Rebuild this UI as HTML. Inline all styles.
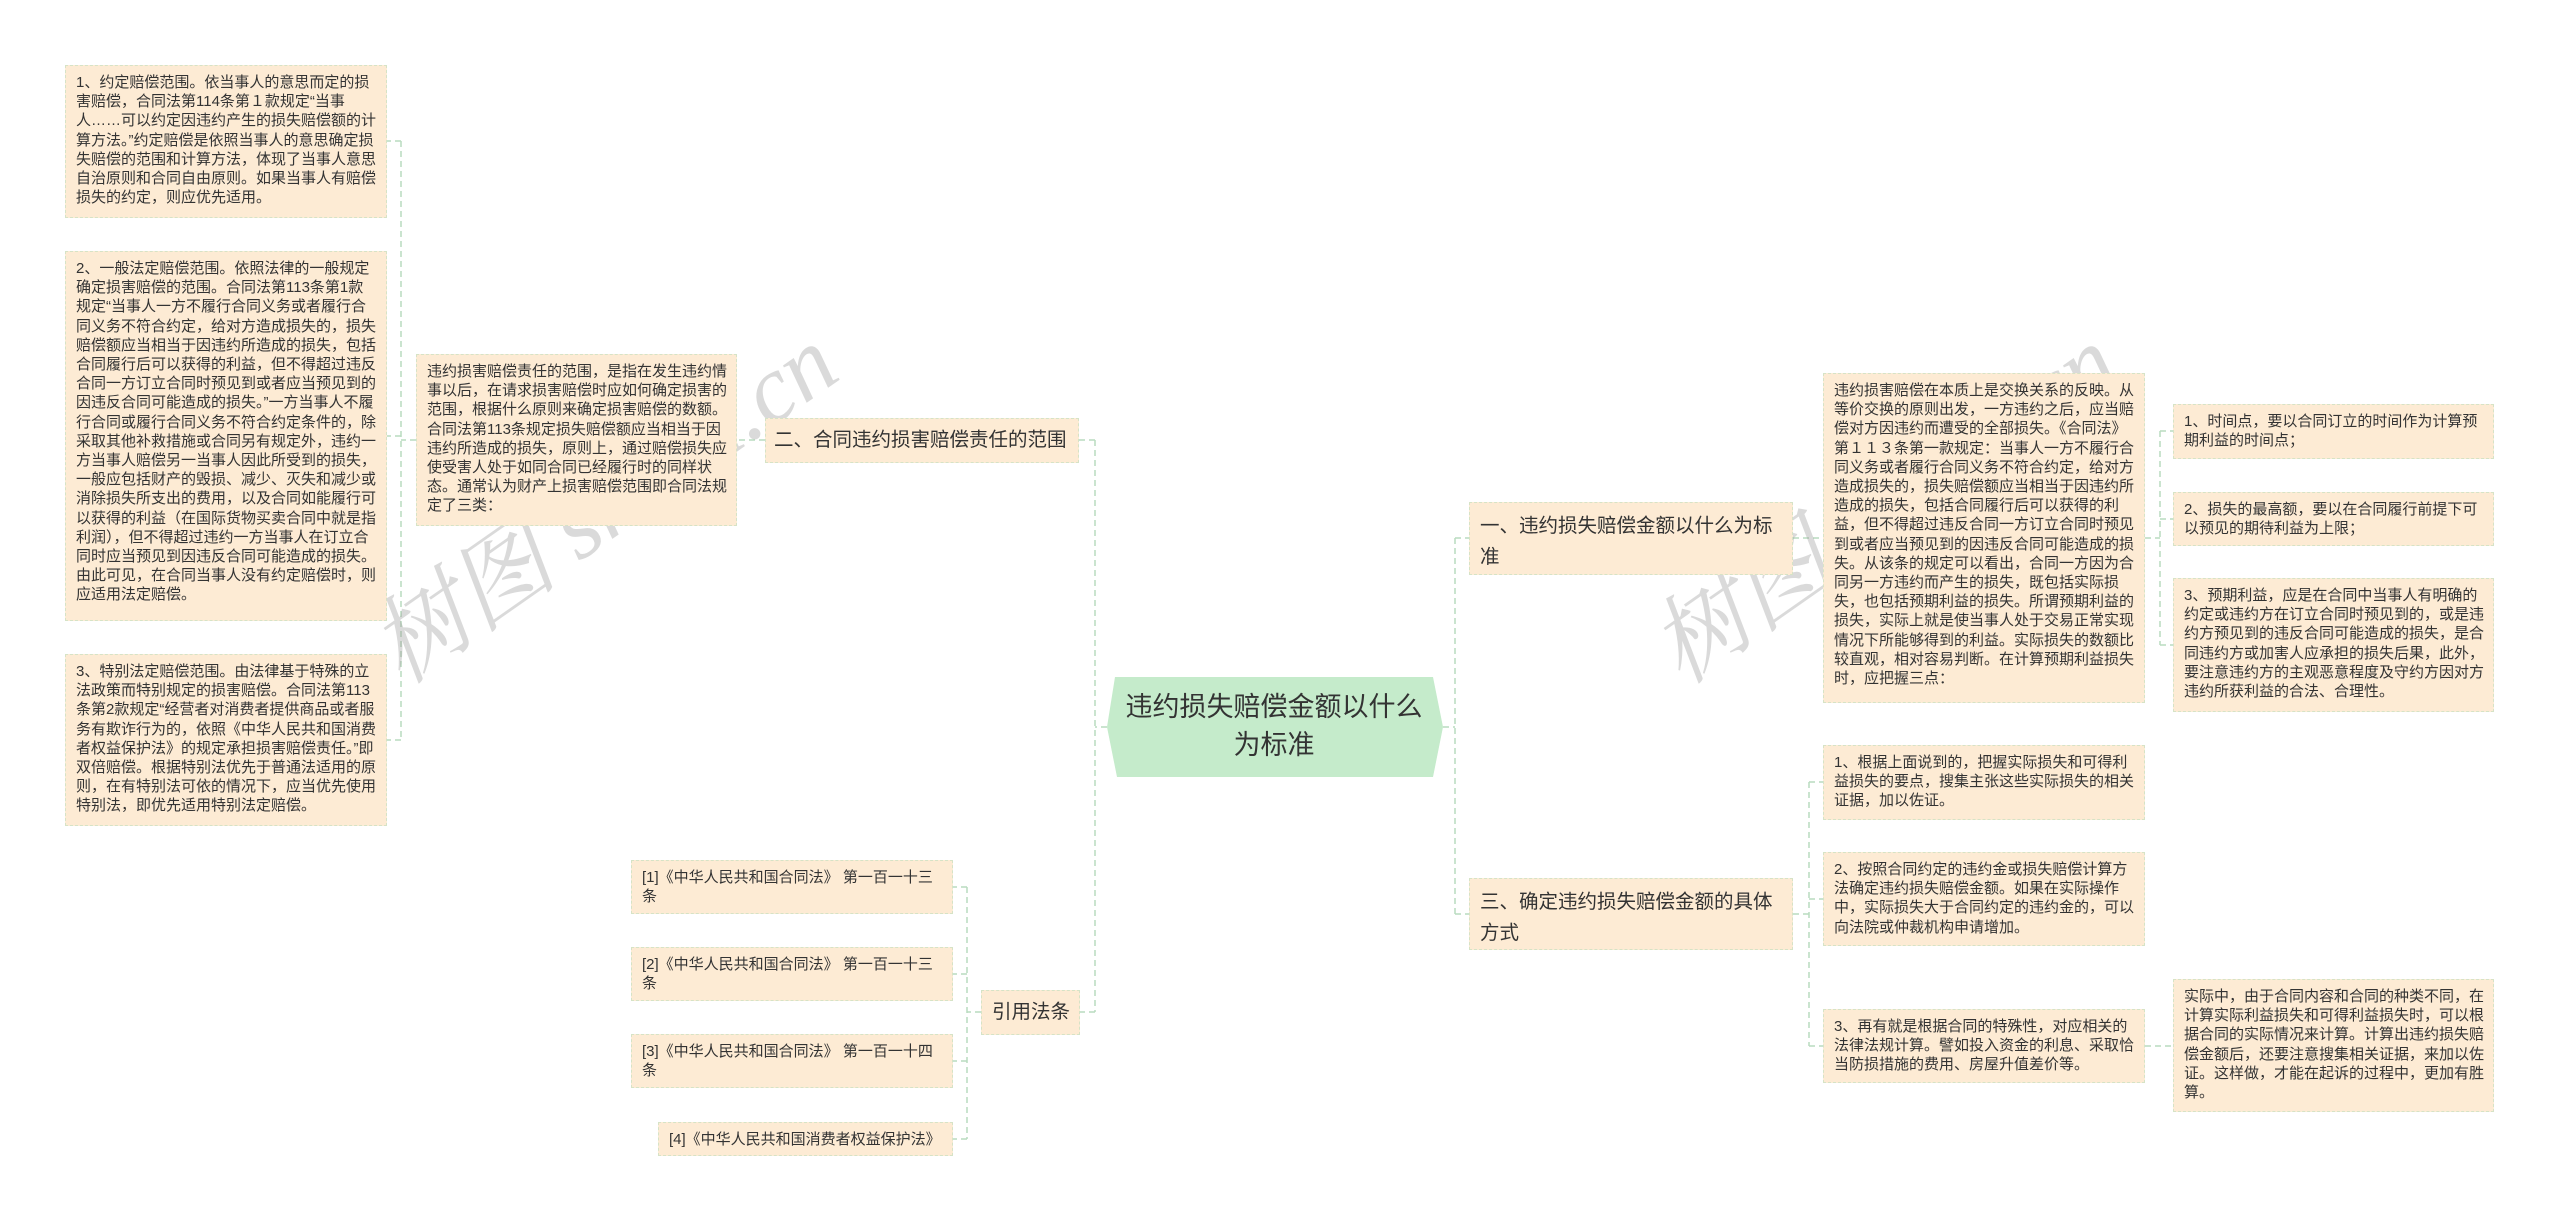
<!DOCTYPE html>
<html><head><meta charset="utf-8"><style>
body{margin:0;width:2560px;height:1222px;background:#fff;position:relative;overflow:hidden;font-family:"Liberation Sans","Noto Sans CJK SC",sans-serif;color:#333}
.b{position:absolute;box-sizing:border-box;background:#fdebd4;border:1.5px dashed #d6e3c6;padding:7px 8px 7px 10px;font-size:15px;line-height:19.2px;word-break:break-all}
.n{position:absolute;box-sizing:border-box;background:#fdebd4;border:1.5px dashed #d6e3c6;padding:8px 10px;font-size:19.5px;line-height:31px;color:#333}
.nw{white-space:nowrap;padding:6px 8px}
.wm{position:absolute;font-size:96px;color:rgba(150,150,150,.35);transform:rotate(-35deg);white-space:nowrap;font-family:"Liberation Serif","Noto Serif CJK SC",serif;font-style:italic}
svg{position:absolute;left:0;top:0}
</style></head><body>
<svg width="2560" height="1222"><g stroke="#b9dcbf" stroke-width="1.5" stroke-dasharray="6,4" fill="none">
<path d="M1107 727H1095M1095 440V1012M1095 440H1079M1095 1012H1080"/>
<path d="M765 440H737M416 440H401M401 141V740M401 141H387M401 436H387M401 740H387"/>
<path d="M981 1012H967M967 887V1139M967 887H953M967 974H953M967 1061H953M967 1139H953"/>
<path d="M1443 727H1455M1455 538V914M1455 538H1469M1455 914H1469"/>
<path d="M1793 538H1823M2145 538H2160M2160 431V645M2160 431H2173M2160 519H2173M2160 645H2173"/>
<path d="M1793 914H1809M1809 782V1046M1809 782H1823M1809 899H1823M1809 1046H1823M2145 1046H2173"/>
</g></svg>
<div class="wm" style="left:330px;top:430px">树图 shutu.cn</div>
<div class="wm" style="left:1610px;top:430px">树图 shutu.cn</div>

<div class="b" style="left:65px;top:65px;width:322px;height:153px">1、约定赔偿范围。依当事人的意思而定的损害赔偿，合同法第114条第１款规定“当事人……可以约定因违约产生的损失赔偿额的计算方法。”约定赔偿是依照当事人的意思确定损失赔偿的范围和计算方法，体现了当事人意思自治原则和合同自由原则。如果当事人有赔偿损失的约定，则应优先适用。</div>
<div class="b" style="left:65px;top:251px;width:322px;height:370px">2、一般法定赔偿范围。依照法律的一般规定确定损害赔偿的范围。合同法第113条第1款规定“当事人一方不履行合同义务或者履行合同义务不符合约定，给对方造成损失的，损失赔偿额应当相当于因违约所造成的损失，包括合同履行后可以获得的利益，但不得超过违反合同一方订立合同时预见到或者应当预见到的因违反合同可能造成的损失。”一方当事人不履行合同或履行合同义务不符合约定条件的，除采取其他补救措施或合同另有规定外，违约一方当事人赔偿另一当事人因此所受到的损失，一般应包括财产的毁损、减少、灭失和减少或消除损失所支出的费用，以及合同如能履行可以获得的利益（在国际货物买卖合同中就是指利润），但不得超过违约一方当事人在订立合同时应当预见到因违反合同可能造成的损失。由此可见，在合同当事人没有约定赔偿时，则应适用法定赔偿。</div>
<div class="b" style="left:65px;top:654px;width:322px;height:172px">3、特别法定赔偿范围。由法律基于特殊的立法政策而特别规定的损害赔偿。合同法第113条第2款规定“经营者对消费者提供商品或者服务有欺诈行为的，依照《中华人民共和国消费者权益保护法》的规定承担损害赔偿责任。”即双倍赔偿。根据特别法优先于普通法适用的原则，在有特别法可依的情况下，应当优先使用特别法，即优先适用特别法定赔偿。</div>
<div class="b" style="left:416px;top:354px;width:321px;height:172px">违约损害赔偿责任的范围，是指在发生违约情事以后，在请求损害赔偿时应如何确定损害的范围，根据什么原则来确定损害赔偿的数额。合同法第113条规定损失赔偿额应当相当于因违约所造成的损失，原则上，通过赔偿损失应使受害人处于如同合同已经履行时的同样状态。通常认为财产上损害赔偿范围即合同法规定了三类：</div>
<div class="n nw" style="left:765px;top:418px;width:314px;height:45px">二、合同违约损害赔偿责任的范围</div>

<div class="b" style="left:631px;top:860px;width:322px;height:54px">[1]《中华人民共和国合同法》 第一百一十三条</div>
<div class="b" style="left:631px;top:947px;width:322px;height:54px">[2]《中华人民共和国合同法》 第一百一十三条</div>
<div class="b" style="left:631px;top:1034px;width:322px;height:54px">[3]《中华人民共和国合同法》 第一百一十四条</div>
<div class="b" style="left:658px;top:1122px;width:295px;height:34px">[4]《中华人民共和国消费者权益保护法》</div>
<div class="n nw" style="left:981px;top:990px;width:99px;height:45px;padding-left:10px">引用法条</div>

<svg width="2560" height="1222"><polygon points="1115,677 1433,677 1443,727 1433,777 1117,777 1107,727" fill="#c5ebcb"/></svg>
<div style="position:absolute;left:1115px;top:688px;width:318px;text-align:center;font-size:27px;line-height:38px;color:#333">违约损失赔偿金额以什么为标准</div>

<div class="n" style="left:1469px;top:502px;width:324px;height:73px">一、违约损失赔偿金额以什么为标准</div>
<div class="b" style="left:1823px;top:373px;width:322px;height:330px">违约损害赔偿在本质上是交换关系的反映。从等价交换的原则出发，一方违约之后，应当赔偿对方因违约而遭受的全部损失。《合同法》第１１３条第一款规定：当事人一方不履行合同义务或者履行合同义务不符合约定，给对方造成损失的，损失赔偿额应当相当于因违约所造成的损失，包括合同履行后可以获得的利益，但不得超过违反合同一方订立合同时预见到或者应当预见到的因违反合同可能造成的损失。从该条的规定可以看出，合同一方因为合同另一方违约而产生的损失，既包括实际损失，也包括预期利益的损失。所谓预期利益的损失，实际上就是使当事人处于交易正常实现情况下所能够得到的利益。实际损失的数额比较直观，相对容易判断。在计算预期利益损失时，应把握三点：</div>
<div class="b" style="left:2173px;top:404px;width:321px;height:55px">1、时间点，要以合同订立的时间作为计算预期利益的时间点；</div>
<div class="b" style="left:2173px;top:492px;width:321px;height:54px">2、损失的最高额，要以在合同履行前提下可以预见的期待利益为上限；</div>
<div class="b" style="left:2173px;top:578px;width:321px;height:134px">3、预期利益，应是在合同中当事人有明确的约定或违约方在订立合同时预见到的，或是违约方预见到的违反合同可能造成的损失，是合同违约方或加害人应承担的损失后果，此外，要注意违约方的主观恶意程度及守约方因对方违约所获利益的合法、合理性。</div>

<div class="n" style="left:1469px;top:878px;width:324px;height:72px">三、确定违约损失赔偿金额的具体方式</div>
<div class="b" style="left:1823px;top:745px;width:322px;height:75px">1、根据上面说到的，把握实际损失和可得利益损失的要点，搜集主张这些实际损失的相关证据，加以佐证。</div>
<div class="b" style="left:1823px;top:852px;width:322px;height:94px">2、按照合同约定的违约金或损失赔偿计算方法确定违约损失赔偿金额。如果在实际操作中，实际损失大于合同约定的违约金的，可以向法院或仲裁机构申请增加。</div>
<div class="b" style="left:1823px;top:1009px;width:322px;height:74px">3、再有就是根据合同的特殊性，对应相关的法律法规计算。譬如投入资金的利息、采取恰当防损措施的费用、房屋升值差价等。</div>
<div class="b" style="left:2173px;top:979px;width:321px;height:133px">实际中，由于合同内容和合同的种类不同，在计算实际利益损失和可得利益损失时，可以根据合同的实际情况来计算。计算出违约损失赔偿金额后，还要注意搜集相关证据，来加以佐证。这样做，才能在起诉的过程中，更加有胜算。</div>
</body></html>
